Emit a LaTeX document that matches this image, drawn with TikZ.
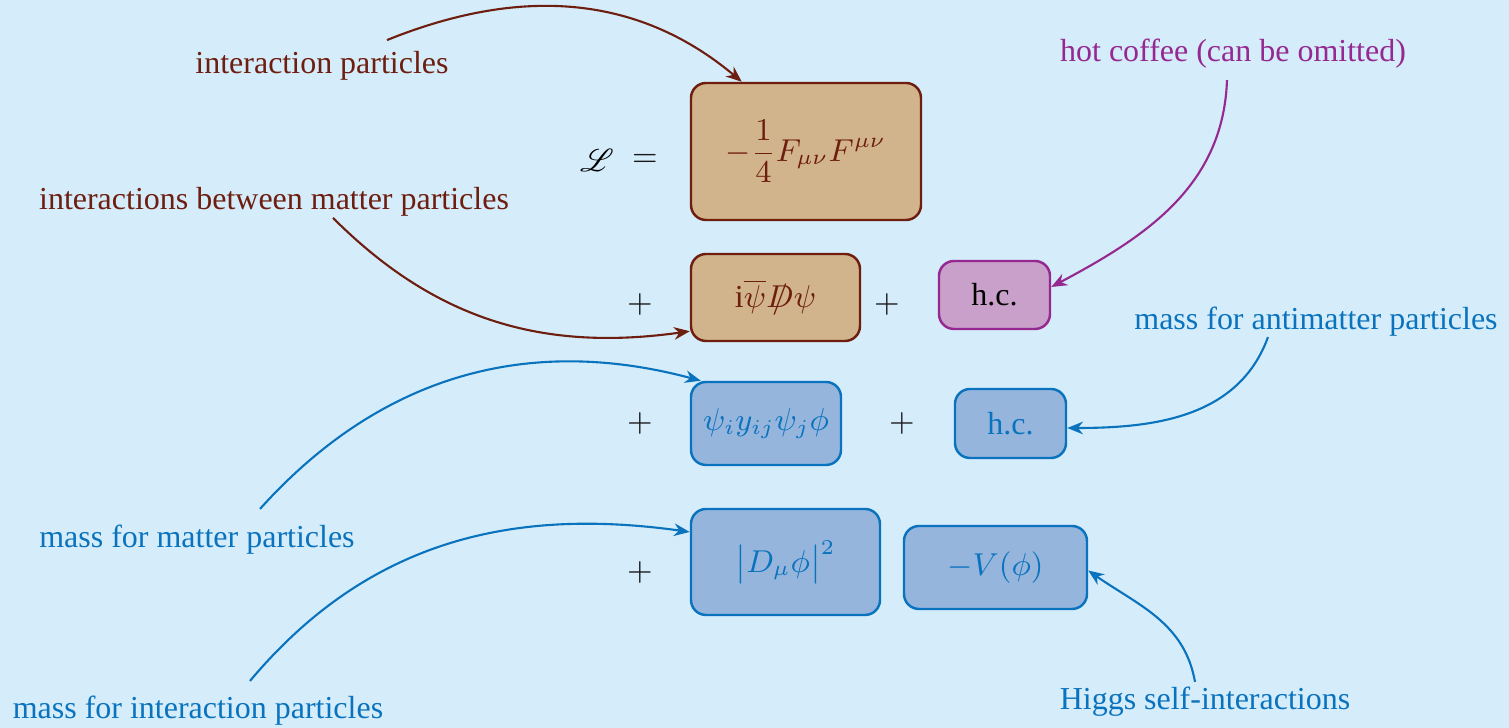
\documentclass[tikz,border=0pt]{standalone}
\usepackage{amsmath}
\usepackage{mathrsfs}
\usepackage{fontspec}
\setmainfont{Liberation Serif}
\usetikzlibrary{arrows.meta}
\definecolor{bgblue}{RGB}{213,236,250}
\definecolor{gaugebrown}{RGB}{110,30,15}
\definecolor{gaugefill}{RGB}{210,180,140}
\definecolor{hcpurple}{RGB}{150,40,145}
\definecolor{hcfill}{RGB}{200,160,202}
\definecolor{higgsblue}{RGB}{10,115,190}
\definecolor{higgsfill}{RGB}{150,181,221}
\newcommand{\Dsl}{\ooalign{$D$\cr\hfil$/$\hfil\cr}}

\begin{document}
\begin{tikzpicture}[
		every node/.style={font=\fontsize{9.1}{11}\selectfont},
		term/.style={draw, rounded corners=1.5mm, line width=0.7pt, align=center},
		gauge/.style={term, gaugebrown, fill=gaugefill, text=gaugebrown},
		hcterm/.style={term, hcpurple, fill=hcfill, text=black},
		higgs/.style={term, higgsblue, fill=higgsfill, text=higgsblue},
		sign/.style={text=black!90, font=\fontsize{9.1}{11}\sffamily},
		ga/.style={-{Stealth[length=4.5pt,width=3.6pt]}, gaugebrown, line width=0.6pt},
		ha/.style={-{Stealth[length=4.5pt,width=3.6pt]}, hcpurple, line width=0.6pt},
		ba/.style={-{Stealth[length=4.5pt,width=3.6pt]}, higgsblue, line width=0.6pt}]
	
	\fill[bgblue] (0,0) rectangle (15.09,7.28);
	\useasboundingbox (0,0) rectangle (15.09,7.28);
	
	%--- first line: L = gauge term ---
	\node (lag) at (5.97,5.68) {$\mathscr{L}$};
	\node[sign] (eq) at (6.45,5.68) {=};
	\node[gauge, minimum width=2.30cm, minimum height=1.37cm] (n_gauge) at (8.06,5.765)
	{$-\dfrac{1}{4}F_{\mu\nu}F^{\mu\nu}$};
	
	%--- second line: Dirac term + h.c. ---
	\node[sign] (p1) at (6.40,4.23) {+};
	\node[gauge, minimum width=1.69cm, minimum height=0.87cm] (n_dirac) at (7.755,4.305)
	{$\mathrm{i}\overline{\psi}\Dsl\psi$};
	\node[sign] (p2) at (8.87,4.23) {+};
	\node[hcterm, minimum width=1.11cm, minimum height=0.68cm] (n_hcA) at (9.945,4.33) {h.c.};
	
	%--- third line: Yukawa term + h.c. ---
	\node[sign] (p3) at (6.40,3.04) {+};
	\node[higgs, minimum width=1.50cm, minimum height=0.83cm] (n_yuk) at (7.66,3.045)
	{$\psi_i y_{ij}\psi_j\phi$};
	\node[sign] (p4) at (9.02,3.04) {+};
	\node[higgs, minimum width=1.11cm, minimum height=0.69cm] (n_hcB) at (10.105,3.045) {h.c.};
	
	%--- fourth line: Higgs kinetic term and potential ---
	\node[sign] (p5) at (6.40,1.55) {+};
	\node[higgs, minimum width=1.89cm, minimum height=1.06cm] (n_kin) at (7.855,1.66)
	{$\bigl|D_\mu\phi\bigr|^2$};
	\node[higgs, minimum width=1.83cm, minimum height=0.83cm] (n_pot) at (9.955,1.605)
	{$-V(\phi)$};
	
	%--- labels ---
	\node[text=gaugebrown] (l_int) at (3.22,6.62) {interaction particles};
	\node[text=gaugebrown] (l_between) at (2.74,5.26) {interactions between matter particles};
	\node[text=hcpurple] (l_coffee) at (12.33,6.74) {hot coffee (can be omitted)};
	\node[text=higgsblue] (l_anti) at (13.16,4.06) {mass for antimatter particles};
	\node[text=higgsblue] (l_matter) at (1.97,1.88) {mass for matter particles};
	\node[text=higgsblue] (l_massint) at (1.98,0.17) {mass for interaction particles};
	\node[text=higgsblue] (l_higgs) at (12.05,0.26) {Higgs self-interactions};
	
	%--- arrows ---
	\draw[ga] ([xshift=0.65cm,yshift=-0.01cm]l_int.north) to[out=22, in=140]
	([xshift=0.52cm]n_gauge.north west);
	\draw[ga] ([xshift=0.59cm,yshift=0.11cm]l_between.south) to[out=-45, in=188]
	([yshift=0.11cm]n_dirac.south west);
	\draw[ha] ([xshift=-0.06cm,yshift=0.01cm]l_coffee.south) to[out=-92, in=28]
	([yshift=0.08cm]n_hcA.east);
	\draw[ba] ([xshift=-0.48cm,yshift=0.12cm]l_anti.south) to[out=-110, in=0]
	([yshift=-0.045cm]n_hcB.east);
	\draw[ba] ([xshift=0.63cm,yshift=0.04cm]l_matter.north) to[out=48, in=165]
	([xshift=0.11cm]n_yuk.north west);
	\draw[ba] ([xshift=0.52cm,yshift=0.03cm]l_massint.north) to[out=50, in=172]
	([yshift=0.30cm]n_kin.west);
	\draw[ba] ([xshift=-0.1cm,yshift=-0.07cm]l_higgs.north) to[out=100, in=-35]
	([yshift=-0.03cm]n_pot.east);
\end{tikzpicture}
\end{document}
